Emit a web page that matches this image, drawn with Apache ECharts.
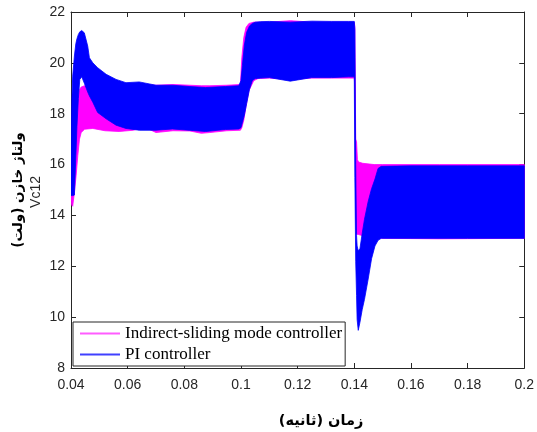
<!DOCTYPE html>
<html>
<head>
<meta charset="utf-8">
<script src="https://cdn.jsdelivr.net/npm/echarts@6/dist/echarts.min.js"></script>
<style>
html,body{margin:0;padding:0;background:#fff;}
#chart{width:537px;height:432px;}
</style>
</head>
<body>
<div id="chart"></div>
<script>
// ---- data (envelopes of the switching ripple) ----
var xTicks = [0.04, 0.06, 0.08, 0.1, 0.12, 0.14, 0.16, 0.18, 0.2];
var yTicks = [8, 10, 12, 14, 16, 18, 20, 22];

var seriesNames = ['Indirect-sliding mode controller', 'PI controller'];

// Indirect-sliding mode controller (magenta)
var ismcTime  = [0.0400,0.0403,0.0406,0.0412,0.0418,0.0424,0.0430,0.0436,0.0448,0.0477,0.0520,0.0570,0.0620,0.0660,0.0700,0.0760,0.0820,0.0860,0.0890,0.0950,0.0998,0.1003,0.1010,0.1018,0.1028,0.1045,0.1060,0.1100,0.1174,0.1250,0.1320,0.1400,0.1402,0.1405,0.1408,0.1411,0.1415,0.1430,0.1470,0.1500,0.1700,0.2000];
var ismcUpper = [15.4,16.0,16.6,17.5,18.2,18.7,18.95,19.05,19.1,19.1,19.1,19.12,19.15,19.15,19.12,19.15,19.12,19.1,19.1,19.12,19.15,20.2,21.0,21.4,21.55,21.6,21.6,21.6,21.66,21.6,21.6,21.6,21.4,17.0,16.9,16.2,16.1,16.05,16.0,16.0,16.0,16.0];
var ismcLower = [14.6,14.4,14.36,14.9,15.56,16.35,17.0,17.26,17.39,17.42,17.33,17.3,17.35,17.47,17.26,17.33,17.32,17.23,17.26,17.33,17.35,17.45,17.75,18.3,18.9,19.3,19.38,19.4,19.35,19.4,19.4,19.4,19.0,14.0,13.3,13.25,13.25,13.2,13.12,13.1,13.08,13.1];

// PI controller (blue)
var piTime  = [0.0400,0.0403,0.0406,0.0412,0.0417,0.0421,0.0426,0.0431,0.0438,0.0447,0.0459,0.0465,0.0477,0.0494,0.0524,0.0559,0.0594,0.0641,0.0700,0.0758,0.0817,0.0875,0.0945,0.0992,0.1000,0.1005,0.1012,0.1020,0.1030,0.1040,0.1050,0.1070,0.1100,0.1174,0.1250,0.1320,0.1380,0.1400,0.1402,0.1405,0.1408,0.1410,0.1414,0.1420,0.1428,0.1436,0.1449,0.1461,0.1473,0.1484,0.1495,0.1600,0.1800,0.2000];
var piUpper = [16.2,18.57,19.48,20.27,20.75,20.95,21.12,21.22,21.27,21.18,20.66,20.2,20.0,19.81,19.55,19.35,19.22,19.25,19.12,19.12,19.07,19.03,19.07,19.1,19.3,19.9,20.7,21.2,21.45,21.55,21.6,21.62,21.63,21.6,21.64,21.63,21.63,21.63,21.3,16.0,13.2,12.8,12.6,12.7,13.3,13.85,14.55,15.05,15.43,15.85,15.93,15.95,15.95,15.95];
var piLower = [14.78,14.78,14.78,14.8,16.3,17.5,18.6,19.35,19.45,19.2,18.85,18.7,18.45,18.05,17.8,17.55,17.42,17.35,17.35,17.4,17.35,17.3,17.38,17.4,17.45,17.65,17.95,18.4,18.96,19.3,19.38,19.4,19.42,19.28,19.42,19.42,19.45,19.45,15.5,12.2,10.86,9.9,9.48,9.8,10.3,10.7,11.5,12.3,12.8,13.02,13.1,13.1,13.1,13.1];

var colors = ['#ff00ff', '#0000ff'];
var legendColors = ['#ff5cff', '#4040ff'];

function band(times, up, lo, color) {
  return function (params, api) {
    var pts = [];
    for (var i = 0; i < times.length; i++) pts.push(api.coord([times[i], up[i]]));
    for (var j = times.length - 1; j >= 0; j--) pts.push(api.coord([times[j], lo[j]]));
    return {
      type: 'polygon',
      shape: { points: pts },
      style: { fill: color, stroke: color, lineWidth: 0.8 }
    };
  };
}

var axisColor = '#262626';
var labelFont = { fontFamily: 'Liberation Sans, Arial', fontSize: 14, color: axisColor };

var chart = echarts.init(document.getElementById('chart'), null, { renderer: 'canvas' });
chart.setOption({
  animation: false,
  backgroundColor: '#ffffff',
  grid: { left: 71, right: 10, top: 12, bottom: 64, containLabel: false },
  xAxis: [{
    type: 'value', min: xTicks[0], max: xTicks[xTicks.length - 1], interval: 0.02, position: 'bottom',
    axisLine: { show: true, onZero: false, lineStyle: { color: axisColor, width: 1 } },
    axisTick: { show: true, inside: true, length: 5, lineStyle: { color: axisColor } },
    splitLine: { show: false },
    axisLabel: Object.assign({ margin: 10, formatter: function (v) { return String(+v.toFixed(2)); } }, labelFont)
  }, {
    type: 'value', min: xTicks[0], max: xTicks[xTicks.length - 1], interval: 0.02, position: 'top',
    axisLine: { show: true, onZero: false, lineStyle: { color: axisColor, width: 1 } },
    axisTick: { show: true, inside: true, length: 5, lineStyle: { color: axisColor } },
    splitLine: { show: false }, axisLabel: { show: false }
  }],
  yAxis: [{
    type: 'value', min: yTicks[0], max: yTicks[yTicks.length - 1], interval: 2, position: 'left',
    axisLine: { show: true, onZero: false, lineStyle: { color: axisColor, width: 1 } },
    axisTick: { show: true, inside: true, length: 5, lineStyle: { color: axisColor } },
    splitLine: { show: false },
    axisLabel: Object.assign({ margin: 6 }, labelFont)
  }, {
    type: 'value', min: yTicks[0], max: yTicks[yTicks.length - 1], interval: 2, position: 'right',
    axisLine: { show: true, onZero: false, lineStyle: { color: axisColor, width: 1 } },
    axisTick: { show: true, inside: true, length: 5, lineStyle: { color: axisColor } },
    splitLine: { show: false }, axisLabel: { show: false }
  }],
  legend: {
    orient: 'vertical', left: 73, top: 322,
    icon: 'rect', itemWidth: 40, itemHeight: 2, itemGap: 4,
    padding: [3, 3, 3, 7],
    backgroundColor: '#ffffff', borderColor: axisColor, borderWidth: 1, borderRadius: 0,
    textStyle: { fontFamily: 'Liberation Serif, Times New Roman', fontSize: 17, lineHeight: 16, color: '#000' },
    data: seriesNames,
    z: 10
  },
  series: [{
    type: 'custom', name: 'ismc-band', coordinateSystem: 'cartesian2d', xAxisIndex: 0, yAxisIndex: 0,
    data: [[ismcTime[0], ismcLower[0]]], silent: true, clip: true, z: 2,
    renderItem: band(ismcTime, ismcUpper, ismcLower, colors[0])
  }, {
    type: 'custom', name: 'pi-band', coordinateSystem: 'cartesian2d', xAxisIndex: 0, yAxisIndex: 0,
    data: [[piTime[0], piLower[0]]], silent: true, clip: true, z: 3,
    renderItem: band(piTime, piUpper, piLower, colors[1])
  }, {
    type: 'line', name: seriesNames[0], data: [], symbol: 'none',
    itemStyle: { color: legendColors[0] }, lineStyle: { color: legendColors[0], width: 2 }
  }, {
    type: 'line', name: seriesNames[1], data: [], symbol: 'none',
    itemStyle: { color: legendColors[1] }, lineStyle: { color: legendColors[1], width: 2 }
  }],
  graphic: [{
    type: 'text', x: 18, y: 190, rotation: Math.PI / 2,
    style: { text: '\u200Fولتاژ خازن (ولت)\u200F', font: 'bold 13.5px "DejaVu Sans"', fill: '#000', textAlign: 'center', textVerticalAlign: 'middle' }
  }, {
    type: 'text', x: 36, y: 192, rotation: Math.PI / 2,
    style: { text: 'Vc12', font: '14px "Liberation Sans", Arial', fill: axisColor, textAlign: 'center', textVerticalAlign: 'middle' }
  }, {
    type: 'text', x: 321, y: 421,
    style: { text: '\u200Fزمان (ثانیه)\u200F', font: 'bold 14.5px "DejaVu Sans"', fill: '#000', textAlign: 'center', textVerticalAlign: 'middle' }
  }]
});
</script>
</body>
</html>
